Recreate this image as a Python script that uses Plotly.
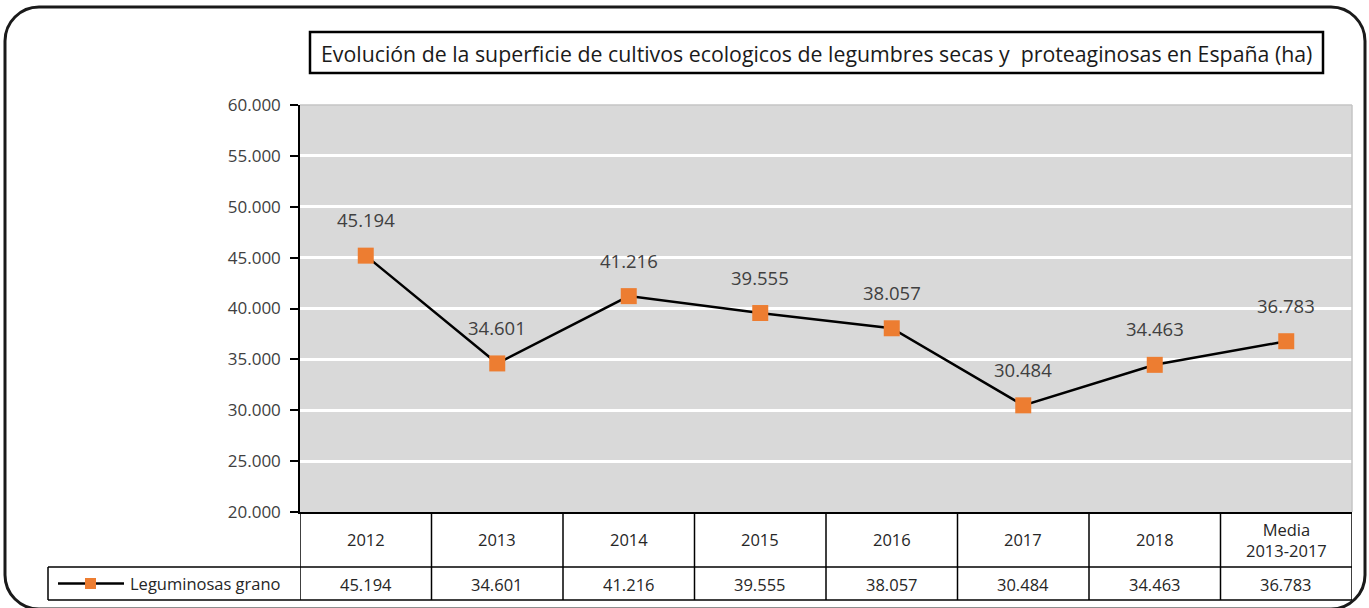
import plotly.graph_objects as go

# ---- data ----
categories = ["2012", "2013", "2014", "2015", "2016", "2017", "2018", "Media<br>2013-2017"]
values = [45194, 34601, 41216, 39555, 38057, 30484, 34463, 36783]
series_name = "Leguminosas grano"
y_ticks = [20000, 25000, 30000, 35000, 40000, 45000, 50000, 55000, 60000]
title_text = "Evolución de la superficie de cultivos ecologicos de legumbres secas y  proteaginosas en España (ha)"

# ---- canvas geometry (pixels) ----
W, H = 1369, 608
PLOT_L, PLOT_R, PLOT_T, PLOT_B = 300, 1352, 105, 512
HEAD_B, TABLE_B, LEG_L = 567, 600, 48

FONT = "Open Sans"
TXT = "#404040"
TABLE_TXT = "#262626"


def px(x):
    return x / W


def py(y):
    return 1 - y / H


def fmt(v):
    return f"{v:,}".replace(",", ".")


idx = list(range(len(categories)))

fig = go.Figure()
fig.add_trace(go.Scatter(
    x=idx, y=values, mode="lines+markers", name=series_name,
    line=dict(color="black", width=2.5),
    marker=dict(symbol="square", size=16, color="#ED7D31"),
    cliponaxis=False, showlegend=False, hoverinfo="skip",
))

annotations = []
# data labels above each point
for i, v in zip(idx, values):
    annotations.append(dict(x=i, y=v, xref="x", yref="y", text=fmt(v), showarrow=False,
                            xanchor="center", yanchor="middle", yshift=36,
                            font=dict(family=FONT, size=18.5, color=TXT)))

# data table: header row (categories) and value row
for i, c in zip(idx, categories):
    annotations.append(dict(x=i, y=py((PLOT_B + HEAD_B) / 2), xref="x", yref="paper", text=c,
                            xanchor="center", yanchor="middle", showarrow=False,
                            font=dict(family=FONT, size=16.5, color=TABLE_TXT)))
for i, v in zip(idx, values):
    annotations.append(dict(x=i, y=py((HEAD_B + TABLE_B) / 2 + 1), xref="x", yref="paper",
                            text=fmt(v), xanchor="center", yanchor="middle", showarrow=False,
                            font=dict(family=FONT, size=16.5, color=TABLE_TXT)))
# legend label in the table
annotations.append(dict(x=px(128), y=py((HEAD_B + TABLE_B) / 2), xref="paper", yref="paper",
                        text=series_name, xanchor="left", yanchor="middle", showarrow=False,
                        font=dict(family=FONT, size=16.5, color=TABLE_TXT)))
# title
annotations.append(dict(x=px((310 + 1323) / 2), y=py(53), xref="paper", yref="paper",
                        text=title_text, xanchor="center", yanchor="middle", showarrow=False,
                        font=dict(family=FONT, size=21.3, color="#1a1a1a")))

shapes = []
line_k = dict(color="black", width=1.5)
# table grid
for i in range(len(categories) + 1):
    shapes.append(dict(type="line", xref="x", yref="paper", x0=i - 0.5, x1=i - 0.5,
                       y0=py(PLOT_B), y1=py(TABLE_B), line=line_k))
shapes.append(dict(type="line", xref="paper", yref="paper", x0=px(LEG_L), x1=px(PLOT_R),
                   y0=py(HEAD_B), y1=py(HEAD_B), line=line_k))
shapes.append(dict(type="line", xref="paper", yref="paper", x0=px(LEG_L), x1=px(PLOT_R),
                   y0=py(TABLE_B), y1=py(TABLE_B), line=line_k))
shapes.append(dict(type="line", xref="paper", yref="paper", x0=px(LEG_L), x1=px(LEG_L),
                   y0=py(HEAD_B), y1=py(TABLE_B), line=line_k))
# legend key
ly = (HEAD_B + TABLE_B) / 2
shapes.append(dict(type="line", xref="paper", yref="paper", x0=px(58), x1=px(124),
                   y0=py(ly), y1=py(ly), line=dict(color="black", width=2.5)))
shapes.append(dict(type="rect", xref="paper", yref="paper", x0=px(85), x1=px(96),
                   y0=py(ly - 5.5), y1=py(ly + 5.5), fillcolor="#ED7D31", line=dict(width=0)))
# plot area light border (top / right)
shapes.append(dict(type="line", xref="paper", yref="paper", x0=px(PLOT_L), x1=px(PLOT_R),
                   y0=py(PLOT_T), y1=py(PLOT_T), line=dict(color="#c4c4c4", width=1.5)))
shapes.append(dict(type="line", xref="paper", yref="paper", x0=px(PLOT_R), x1=px(PLOT_R),
                   y0=py(PLOT_T), y1=py(PLOT_B), line=dict(color="#c4c4c4", width=1.5)))
# title box
shapes.append(dict(type="rect", xref="paper", yref="paper", x0=px(310), x1=px(1323),
                   y0=py(73), y1=py(32), line=dict(color="black", width=2.5)))

# rounded outer frame
L, R, T, B, r = 5, 1365, 7, 609, 34
k = 0.5523 * r


def P(x, y):
    return f"{px(x):.5f},{py(y):.5f}"


path = (f"M {P(L + r, T)} L {P(R - r, T)} C {P(R - r + k, T)} {P(R, T + r - k)} {P(R, T + r)} "
        f"L {P(R, B - r)} C {P(R, B - r + k)} {P(R - r + k, B)} {P(R - r, B)} "
        f"L {P(L + r, B)} C {P(L + r - k, B)} {P(L, B - r + k)} {P(L, B - r)} "
        f"L {P(L, T + r)} C {P(L, T + r - k)} {P(L + r - k, T)} {P(L + r, T)} Z")
shapes.append(dict(type="path", xref="paper", yref="paper", path=path,
                   line=dict(color="#1a1a1a", width=3)))

fig.update_layout(
    width=W, height=H, margin=dict(l=0, r=0, t=0, b=0, pad=0, autoexpand=False),
    paper_bgcolor="white", plot_bgcolor="#d9d9d9",
    shapes=shapes, annotations=annotations, showlegend=False,
    xaxis=dict(range=[-0.5, len(categories) - 0.5], domain=[px(PLOT_L), px(PLOT_R)],
               showticklabels=False, showgrid=False, zeroline=False, automargin=False,
               showline=True, linecolor="black", linewidth=1.5, fixedrange=True),
    yaxis=dict(range=[y_ticks[0], y_ticks[-1]], domain=[py(PLOT_B), py(PLOT_T)],
               tickvals=y_ticks, ticktext=[fmt(t) for t in y_ticks], automargin=False,
               ticks="outside", ticklen=8, tickcolor="black", tickwidth=1.5,
               ticklabelstandoff=6,
               showline=True, linecolor="black", linewidth=1.5,
               showgrid=True, gridcolor="white", gridwidth=3, zeroline=False,
               tickfont=dict(family=FONT, size=17, color=TXT), fixedrange=True),
)

fig.write_html(
    "out.html",
    post_script="document.body.style.margin='0';",
)
